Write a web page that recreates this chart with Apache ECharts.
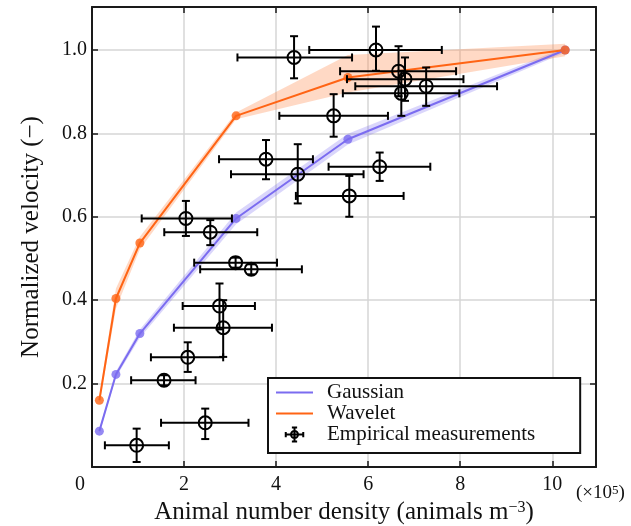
<!DOCTYPE html>
<html>
<head>
<meta charset="utf-8">
<script src="https://cdn.jsdelivr.net/npm/echarts@6/dist/echarts.min.js"></script>
<style>
html,body{margin:0;padding:0;background:#fff;}
#chart{width:631px;height:526px;}
</style>
</head>
<body>
<div id="chart"></div>
<script>
// ---- Model curves (x in units of 1e5 animals m^-3) ----
const modelX   = [0.16, 0.52, 1.04, 3.13, 5.56, 10.28];
const gaussY   = [0.086, 0.222, 0.320, 0.596, 0.786, 1.000];
const gaussLo  = [0.080, 0.215, 0.310, 0.582, 0.773, 0.994];
const gaussHi  = [0.092, 0.229, 0.330, 0.610, 0.799, 1.006];
const waveY    = [0.160, 0.404, 0.537, 0.842, 0.934, 1.000];
const waveLo   = [0.150, 0.380, 0.522, 0.834, 0.898, 0.985];
const waveHi   = [0.170, 0.428, 0.552, 0.850, 0.988, 1.015];

// ---- Empirical measurements ----
const empX   = [4.39, 6.17, 6.66, 6.80, 7.26, 6.72, 5.25, 3.78, 4.47, 6.25, 5.59, 2.04, 2.57, 3.12, 3.46, 2.77, 2.85, 2.08, 1.565, 2.46, 0.97];
const empY   = [0.982, 1.000, 0.949, 0.930, 0.913, 0.896, 0.842, 0.738, 0.702, 0.720, 0.650, 0.596, 0.563, 0.490, 0.474, 0.386, 0.334, 0.263, 0.208, 0.106, 0.052];
const empXLo = [3.16, 4.72, 5.39, 5.54, 5.72, 5.45, 4.07, 2.76, 3.02, 5.14, 4.43, 1.08, 1.57, 2.22, 2.35, 1.97, 1.78, 1.28, 0.85, 1.50, 0.28];
const empXHi = [5.65, 7.60, 7.91, 8.07, 8.80, 7.98, 6.43, 4.80, 5.90, 7.35, 6.77, 3.04, 3.59, 4.02, 4.56, 3.54, 3.91, 2.85, 2.25, 3.40, 1.67];
const empYLo = [0.932, 0.950, 0.889, 0.878, 0.866, 0.842, 0.792, 0.690, 0.632, 0.686, 0.600, 0.554, 0.532, 0.478, 0.462, 0.330, 0.264, 0.228, 0.196, 0.067, 0.012];
const empYHi = [1.033, 1.056, 1.009, 0.982, 0.958, 0.950, 0.894, 0.784, 0.774, 0.754, 0.698, 0.638, 0.592, 0.502, 0.486, 0.440, 0.400, 0.299, 0.220, 0.140, 0.092];

// ---- Axis ticks ----
const xTickInterval = 2;
const yTickInterval = 0.2;
const xMax = 10.95;
const yMax = 1.103;

const FONT = 'Liberation Serif';
const ORANGE = '#ff6414';
const PURPLE = '#7b6cf0';

const chart = echarts.init(document.getElementById('chart'), null, {renderer: 'canvas'});

function pairs(xs, ys) { return xs.map((x, i) => [x, ys[i]]); }

function bandRenderer(xs, lo, hi, fill) {
  return function (params, api) {
    if (params.dataIndex !== 0) return {type: 'group', children: []};
    const pts = [];
    for (let i = 0; i < xs.length; i++) pts.push(api.coord([xs[i], hi[i]]));
    for (let i = xs.length - 1; i >= 0; i--) pts.push(api.coord([xs[i], lo[i]]));
    return {type: 'polygon', shape: {points: pts}, style: {fill: fill, stroke: null}};
  };
}

const empData = empX.map((x, i) => [x, empY[i], empXLo[i], empXHi[i], empYLo[i], empYHi[i]]);

function errRenderer(params, api) {
  const x = api.value(0), y = api.value(1);
  const c = api.coord([x, y]);
  const xl = api.coord([api.value(2), y])[0];
  const xh = api.coord([api.value(3), y])[0];
  const yl = api.coord([x, api.value(4)])[1];
  const yh = api.coord([x, api.value(5)])[1];
  const cap = 4;
  const st = {stroke: '#000', lineWidth: 2, fill: null};
  const ln = (x1, y1, x2, y2) => ({type: 'line', shape: {x1, y1, x2, y2}, style: st});
  return {
    type: 'group',
    children: [
      ln(xl, c[1], xh, c[1]),
      ln(xl, c[1] - cap, xl, c[1] + cap),
      ln(xh, c[1] - cap, xh, c[1] + cap),
      ln(c[0], yl, c[0], yh),
      ln(c[0] - cap, yl, c[0] + cap, yl),
      ln(c[0] - cap, yh, c[0] + cap, yh),
      {type: 'circle', shape: {cx: c[0], cy: c[1], r: 6.5}, style: {stroke: '#000', lineWidth: 2, fill: null}}
    ]
  };
}

const axisLineStyle = {show: true, onZero: false, lineStyle: {color: '#1a1a1a', width: 2}};
const tickStyle = {show: true, inside: true, length: 6, lineStyle: {color: '#1a1a1a', width: 1.5}};
const splitStyle = {show: true, lineStyle: {color: '#d6d6d6', width: 1.5}};

const option = {
  animation: false,
  backgroundColor: '#fff',
  grid: {left: 92, right: 35, top: 7, bottom: 59, containLabel: false, outerBoundsMode: 'none'},
  xAxis: [
    {
      type: 'value', min: 0, max: xMax, interval: xTickInterval, position: 'bottom',
      axisLine: axisLineStyle, axisTick: tickStyle, splitLine: splitStyle,
      axisLabel: {
        showMaxLabel: false, margin: 8, color: '#111', fontFamily: FONT, fontSize: 20,
        formatter: v => (v === 0 ? '{z|0}' : String(v)),
        rich: {z: {fontFamily: FONT, fontSize: 20, color: '#111', padding: [0, 24, 0, 0]}}
      },
      name: 'Animal number density (animals m{sup|−3})',
      nameLocation: 'middle', nameGap: 32,
      nameTextStyle: {
        color: '#111', fontFamily: FONT, fontSize: 25,
        rich: {sup: {fontFamily: FONT, fontSize: 16, color: '#111', verticalAlign: 'top'}}
      }
    },
    {
      type: 'value', min: 0, max: xMax, interval: xTickInterval, position: 'top',
      axisLine: axisLineStyle, axisTick: tickStyle, splitLine: {show: false}, axisLabel: {show: false}
    }
  ],
  yAxis: [
    {
      type: 'value', min: 0, max: yMax, interval: yTickInterval, position: 'left',
      axisLine: axisLineStyle, axisTick: tickStyle, splitLine: splitStyle,
      axisLabel: {
        showMinLabel: false, showMaxLabel: false, margin: 5, color: '#111', fontFamily: FONT, fontSize: 20,
        formatter: v => v.toFixed(1)
      },
      name: 'Normalized velocity (−)',
      nameLocation: 'middle', nameGap: 48,
      nameTextStyle: {color: '#111', fontFamily: FONT, fontSize: 25}
    },
    {
      type: 'value', min: 0, max: yMax, interval: yTickInterval, position: 'right',
      axisLine: axisLineStyle, axisTick: tickStyle, splitLine: {show: false}, axisLabel: {show: false}
    }
  ],
  legend: {
    orient: 'vertical', left: 268, top: 378,
    padding: [4, 45, 8, 8], itemGap: 0, itemWidth: 37, itemHeight: 14,
    backgroundColor: '#fff', borderColor: '#111', borderWidth: 2, borderRadius: 0,
    selectedMode: false,
    textStyle: {fontFamily: FONT, fontSize: 21, lineHeight: 21, color: '#111', padding: [0, 0, 0, 9]},
    data: [
      {name: 'Gaussian', icon: 'path://M0,0L37,0L37,2L0,2Z', itemStyle: {color: PURPLE, borderWidth: 0}},
      {name: 'Wavelet', icon: 'path://M0,0L37,0L37,2L0,2Z', itemStyle: {color: ORANGE, borderWidth: 0}},
      {
        name: 'Empirical measurements',
        icon: 'path://M0,8L20,8M0,5L0,11M20,5L20,11M10,0L10,16M7,0L13,0M7,16L13,16M14,8A4,4,0,1,1,6,8A4,4,0,1,1,14,8',
        itemStyle: {color: 'none', borderColor: '#000', borderWidth: 2}
      }
    ]
  },
  graphic: [
    {
      type: 'text', left: 576, top: 484,
      style: {
        text: '{n|(×10}{s|5}{n|)}',
        rich: {
          n: {fontFamily: FONT, fontSize: 19, fill: '#111', verticalAlign: 'bottom'},
          s: {fontFamily: FONT, fontSize: 13, fill: '#111', verticalAlign: 'top'}
        }
      }
    }
  ],
  series: [
    {
      name: 'Gaussian band', type: 'custom', z: 1, silent: true, clip: true,
      data: [[modelX[0], gaussLo[0], gaussHi[0]]],
      renderItem: bandRenderer(modelX, gaussLo, gaussHi, 'rgba(123,108,240,0.28)')
    },
    {
      name: 'Wavelet band', type: 'custom', z: 1, silent: true, clip: true,
      data: [[modelX[0], waveLo[0], waveHi[0]]],
      renderItem: bandRenderer(modelX, waveLo, waveHi, 'rgba(255,140,80,0.33)')
    },
    {
      name: 'Gaussian', type: 'line', z: 2, symbol: 'none',
      data: pairs(modelX, gaussY), color: PURPLE,
      lineStyle: {color: PURPLE, width: 2}
    },
    {
      name: 'Wavelet', type: 'line', z: 2, symbol: 'none',
      data: pairs(modelX, waveY), color: ORANGE,
      lineStyle: {color: ORANGE, width: 2}
    },
    {
      name: 'Gaussian points', type: 'scatter', z: 3, symbolSize: 9,
      data: pairs(modelX, gaussY), itemStyle: {color: PURPLE}
    },
    {
      name: 'Wavelet points', type: 'scatter', z: 3, symbolSize: 9,
      data: pairs(modelX, waveY), itemStyle: {color: ORANGE}
    },
    {
      name: 'Empirical measurements', type: 'custom', z: 4, clip: false,
      data: empData, color: '#000',
      encode: {x: [0, 2, 3], y: [1, 4, 5]},
      renderItem: errRenderer
    }
  ]
};

chart.setOption(option);
</script>
</body>
</html>
